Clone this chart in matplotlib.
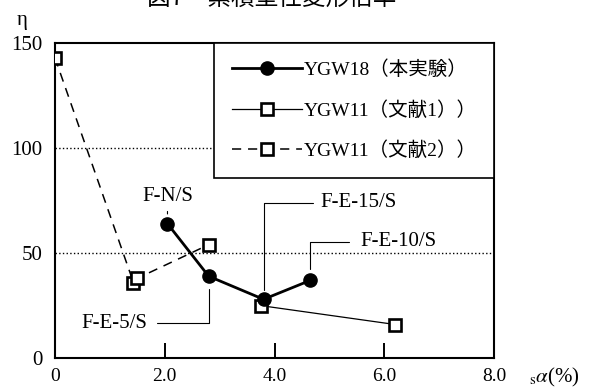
import matplotlib
matplotlib.use("Agg")
import matplotlib.pyplot as plt

plt.rcParams['font.family'] = ['Liberation Serif', 'Noto Sans CJK JP']
plt.rcParams['mathtext.fontset'] = 'stix'

# 累積塑性変形倍率 η vs sα(%)
ygw18_x = [2.05, 2.8, 3.8, 4.65]
ygw18_y = [64, 39, 28, 37]
ygw11_1_x = [3.75, 6.2]
ygw11_1_y = [25, 16]
ygw11_2_x = [0.0, 1.43, 1.5, 2.8]
ygw11_2_y = [143, 36, 38, 54]

specimens = ['F-N/S', 'F-E-5/S', 'F-E-15/S', 'F-E-10/S']
series_labels = ['YGW18（本実験）', 'YGW11（文献1））', 'YGW11（文献2））']

xticks = [0, 2, 4, 6, 8]
xticklabels = ['0', '2.0', '4.0', '6.0', '8.0']
yticks = [0, 50, 100, 150]

fig = plt.figure(figsize=(5.91, 3.88), dpi=100)
ax = fig.add_axes([0.093, 0.077, 0.743, 0.812])

ax.axhline(50, color='black', ls=':', lw=1.0, zorder=1)
ax.axhline(100, color='black', ls=':', lw=1.0, zorder=1)

ax.plot(ygw18_x, ygw18_y, color='black', lw=2.0, marker='o', ms=9.5,
        label=series_labels[0], zorder=4)
ax.plot(ygw11_1_x, ygw11_1_y, color='black', lw=0.9, marker='s', ms=8,
        mfc='white', mec='black', mew=1.9, label=series_labels[1], zorder=3)
ax.plot(ygw11_2_x, ygw11_2_y, color='black', lw=1.1, ls=(0, (6, 4.5)),
        marker='s', ms=8, mfc='white', mec='black', mew=1.9,
        label=series_labels[2], zorder=3)

ax.set_xlim(0, 8)
ax.set_ylim(0, 150)
ax.set_xticks(xticks)
ax.set_xticklabels(xticklabels)
ax.set_yticks(yticks)
ax.tick_params(axis='x', direction='in', length=11, width=1.4, pad=7, labelsize=14)
ax.tick_params(axis='y', length=0, pad=9, labelsize=15)
for s in ax.spines.values():
    s.set_linewidth(1.5)

leg = ax.legend(loc='upper right', bbox_to_anchor=(1.0, 1.0), fontsize=14,
                frameon=True, fancybox=False, edgecolor='black', framealpha=1,
                handlelength=3.6, handletextpad=0.1, labelspacing=1.12,
                borderpad=0.9, borderaxespad=0)
leg.get_frame().set_linewidth(1.2)
leg.set_zorder(5)

# leader lines from labels to the YGW18 points
line_kw = dict(arrowstyle='-', color='black', lw=0.8)
ax.annotate(specimens[0], xy=(ygw18_x[0], ygw18_y[0]), xytext=(ygw18_x[0], 77),
            ha='center', va='center', fontsize=15,
            arrowprops=dict(shrinkA=2, shrinkB=7, **line_kw))
ax.annotate(specimens[1], xy=(ygw18_x[1], ygw18_y[1]), xytext=(1.08, 16.5),
            ha='center', va='center', fontsize=15,
            arrowprops=dict(shrinkA=5, shrinkB=9,
                            connectionstyle='angle,angleA=0,angleB=90,rad=0',
                            **line_kw))
ax.annotate(specimens[2], xy=(ygw18_x[2], ygw18_y[2]), xytext=(5.53, 74),
            ha='center', va='center', fontsize=15,
            arrowprops=dict(shrinkA=3, shrinkB=7,
                            connectionstyle='angle,angleA=0,angleB=90,rad=0',
                            **line_kw))
ax.annotate(specimens[3], xy=(ygw18_x[3], ygw18_y[3]), xytext=(6.26, 55.5),
            ha='center', va='center', fontsize=15,
            arrowprops=dict(shrinkA=6, shrinkB=8,
                            connectionstyle='angle,angleA=0,angleB=90,rad=0',
                            **line_kw))

fig.text(0.037, 0.948, 'η', fontsize=15, ha='center', va='center')
fig.text(0.895, 0.027, r'${}_{\mathrm{s}}\alpha$(%)', fontsize=15,
         ha='left', va='center')
fig.text(0.46, 1.005, '図7　累積塑性変形倍率', fontsize=17, ha='center',
         va='center', family=['Noto Sans CJK JP'])

fig.savefig('out.png', dpi=100)
